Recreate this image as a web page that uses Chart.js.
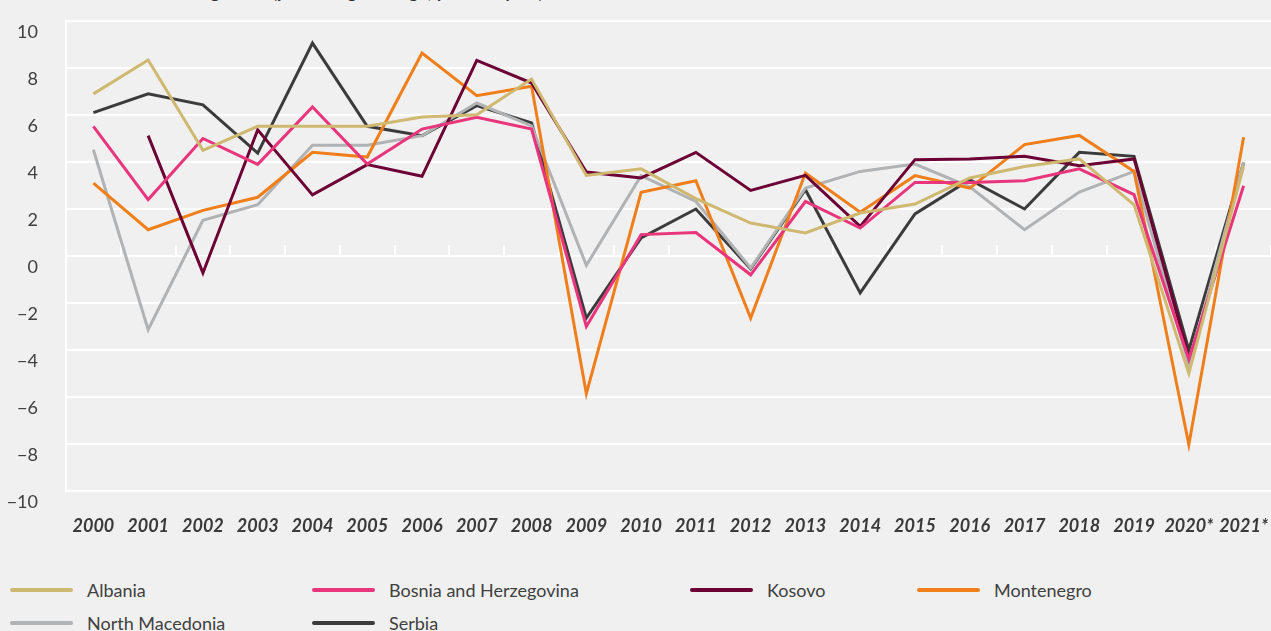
<!DOCTYPE html>
<html>
<head>
<meta charset="utf-8">
<script src="https://cdn.jsdelivr.net/npm/chart.js@4.4.1/dist/chart.umd.min.js"></script>
<style>
  html, body { margin: 0; padding: 0; background: #f0f0f0; overflow: hidden; }
  body { width: 1271px; height: 631px; position: relative; font-family: Lato, "Open Sans", sans-serif; }
  #title { position: absolute; left: 130px; top: -20px; font: bold 18px Lato, sans-serif; color: #333; white-space: nowrap; line-height: 22px; }
  #wrap { position: absolute; left: 0; top: 0; width: 1271px; height: 560px; }
  #legend { position: absolute; left: 0; top: 574px; width: 1271px; }
  .li { position: absolute; height: 32px; display: flex; align-items: center; font-size: 18px; color: #404040; white-space: nowrap; }
  .li .sw { width: 63px; height: 4px; border-radius: 2px; margin-right: 14px; }
</style>
</head>
<body>
<div id="title">Real GDP growth (percentage change, year-on-year)</div>
<div id="wrap"><canvas id="c" width="1271" height="560"></canvas></div>
<div id="legend"></div>
<script>
const years = ['2000','2001','2002','2003','2004','2005','2006','2007','2008','2009','2010','2011','2012','2013','2014','2015','2016','2017','2018','2019','2020*','2021*'];
const yTicks = [-10,-8,-6,-4,-2,0,2,4,6,8,10];

const albania    = [6.9, 8.34, 4.5, 5.52, 5.52, 5.52, 5.91, 6.01, 7.53, 3.43, 3.71, 2.44, 1.4, 0.98, 1.83, 2.21, 3.32, 3.81, 4.13, 2.18, -5.0, 3.81];
const bosnia     = [5.52, 2.4, 5.0, 3.9, 6.34, 3.91, 5.4, 5.9, 5.4, -3.0, 0.91, 1.0, -0.8, 2.32, 1.19, 3.13, 3.13, 3.2, 3.71, 2.61, -4.4, 2.99];
const kosovo     = [null, 5.12, -0.72, 5.37, 2.6, 3.89, 3.39, 8.32, 7.36, 3.57, 3.32, 4.41, 2.79, 3.43, 1.26, 4.1, 4.13, 4.24, 3.84, 4.13, -4.3, null];
const montenegro = [3.1, 1.12, 1.94, 2.5, 4.41, 4.21, 8.64, 6.82, 7.22, -5.86, 2.71, 3.2, -2.64, 3.53, 1.86, 3.42, 2.89, 4.74, 5.13, 3.6, -8.03, 5.05];
const northMacedonia = [4.52, -3.14, 1.52, 2.18, 4.71, 4.71, 5.12, 6.51, 5.54, -0.4, 3.42, 2.32, -0.51, 2.89, 3.6, 3.91, 2.94, 1.12, 2.72, 3.6, -4.65, 4.0];
const serbia     = [6.1, 6.9, 6.43, 4.38, 9.06, 5.52, 5.12, 6.4, 5.66, -2.64, 0.77, 2.0, -0.55, 2.82, -1.57, 1.79, 3.25, 2.0, 4.41, 4.24, -4.0, 3.97];

const seriesNames = ['Albania','Bosnia and Herzegovina','Kosovo','Montenegro','North Macedonia','Serbia'];
const seriesData = [albania, bosnia, kosovo, montenegro, northMacedonia, serbia];
const seriesColors = ['#cfb86f','#e8357c','#6c0034','#f07f1b','#b1b2b4','#3b3b3b'];

const legendPos = [[10,0],[312,0],[690,0],[917,0],[10,33],[312,33]];

function build() {
  const datasets = seriesNames.map((n, i) => ({
    label: n,
    data: seriesData[i],
    borderColor: seriesColors[i],
    backgroundColor: seriesColors[i],
    borderWidth: 3,
    pointRadius: 0,
    pointHoverRadius: 0,
    tension: 0,
    spanGaps: false,
    fill: false
  }));

  const chart = new Chart(document.getElementById('c'), {
    type: 'line',
    data: { labels: years, datasets },
    options: {
      responsive: false,
      devicePixelRatio: 1,
      animation: false,
      layout: { padding: { top: 21, left: 0, right: 0, bottom: 0 } },
      plugins: { legend: { display: false }, tooltip: { enabled: false }, title: { display: false } },
      scales: {
        x: {
          type: 'category',
          offset: true,
          grid: { display: false },
          border: { display: false },
          ticks: {
            color: '#3a3a3a',
            font: { family: 'Lato', size: 18, weight: 'bold', style: 'italic' },
            padding: 16,
            maxRotation: 0,
            autoSkip: false
          },
          afterFit: (s) => { s.height = 69; s.paddingLeft = 0; s.paddingRight = 0; }
        },
        x2: {
          type: 'category',
          position: { y: 0 },
          offset: true,
          grid: { offset: true, drawOnChartArea: false, drawTicks: true, tickLength: -11, color: '#ffffff', lineWidth: 2 },
          border: { display: false },
          ticks: { display: false },
          afterFit: (s) => { s.paddingLeft = 0; s.paddingRight = 0; }
        },
        y: {
          min: -10, max: 10,
          afterBuildTicks: (s) => { s.ticks = yTicks.map(v => ({ value: v })); },
          grid: { color: '#ffffff', lineWidth: 2, drawTicks: false },
          border: { display: true, color: '#ffffff', width: 2 },
          ticks: {
            color: '#404040',
            font: { family: 'Lato', size: 18 },
            padding: 28,
            labelOffset: 11,
            callback: (v) => (v < 0 ? '\u2212' + Math.abs(v) : String(v))
          },
          afterFit: (s) => { s.width = 66; s.paddingTop = 0; s.paddingBottom = 0; }
        }
      }
    }
  });

  const lg = document.getElementById('legend');
  chart.data.datasets.forEach((ds, i) => {
    const d = document.createElement('div');
    d.className = 'li';
    d.style.left = legendPos[i][0] + 'px';
    d.style.top = legendPos[i][1] + 'px';
    const sw = document.createElement('span');
    sw.className = 'sw';
    sw.style.background = ds.borderColor;
    const t = document.createElement('span');
    t.textContent = ds.label;
    d.appendChild(sw); d.appendChild(t);
    lg.appendChild(d);
  });
}

if (document.fonts && document.fonts.load) {
  Promise.all([
    document.fonts.load('18px Lato'),
    document.fonts.load('italic bold 18px Lato')
  ]).then(build, build);
} else { build(); }
</script>
</body>
</html>
